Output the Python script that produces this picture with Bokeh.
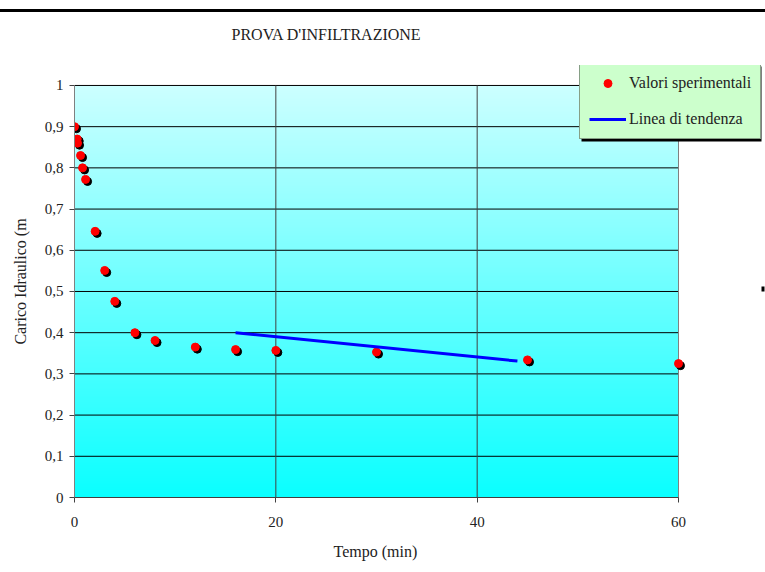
import numpy as np
from bokeh.plotting import figure
from bokeh.models import (ColumnDataSource, FixedTicker, BoxAnnotation, Legend,
                          LegendItem, Range1d, Title)
from bokeh.transform import dodge
from bokeh.embed import file_html
from bokeh.resources import INLINE

# ---- data ----
tempo = [0, 0.27, 0.30, 0.6, 0.8, 1.1, 2.05, 3, 4, 6, 8, 12, 16, 20, 30, 45, 60]
carico = [0.900, 0.870, 0.860, 0.830, 0.800, 0.772, 0.646, 0.551, 0.476, 0.400,
          0.381, 0.365, 0.359, 0.357, 0.353, 0.334, 0.325]
trend_x = [16, 44]
trend_y = [0.400, 0.331]
x_ticks = [0, 20, 40, 60]
y_ticks = [0, 0.1, 0.2, 0.3, 0.4, 0.5, 0.6, 0.7, 0.8, 0.9, 1]
y_tick_labels = ["0", "0,1", "0,2", "0,3", "0,4", "0,5", "0,6", "0,7", "0,8", "0,9", "1"]

SERIF = "Liberation Serif"

# layout (pixels)
W, H = 765, 572
LEFT, TOP, BOTTOM = 74, 64, 75
PLOT_W, PLOT_H = 604, 413          # size of the 0..60 x 0..1 plot area
frame_w = W - LEFT
frame_h = H - TOP - BOTTOM
x0, x1 = x_ticks[0], x_ticks[-1]
y0, y1 = y_ticks[0], y_ticks[-1]
x_max = x0 + (x1 - x0) * frame_w / PLOT_W
y_max = y0 + (y1 - y0) * frame_h / PLOT_H

p = figure(width=W, height=H, output_backend="svg", toolbar_location=None,
           x_range=Range1d(x0, x_max), y_range=Range1d(y0, y_max),
           min_border_left=LEFT, min_border_right=0,
           min_border_top=TOP, min_border_bottom=BOTTOM)
p.background_fill_color = "white"
p.border_fill_color = None
p.outline_line_color = None
p.styles = {"background": "linear-gradient(to bottom, #ffffff 0px, #ffffff 9px, "
                          "#000000 9px, #000000 12px, #ffffff 12px, #ffffff 100%)"}

# title
p.title.text = "PROVA D'INFILTRAZIONE"
p.title.text_font = SERIF
p.title.text_font_size = "16px"
p.title.text_font_style = "normal"
p.title.text_color = "#222222"
p.title.align = "left"
p.title.offset = 157
p.title.standoff = 46

# gradient background of the plot area
n = 256
t = np.linspace(0.0, 1.0, n)
img = np.empty((n, 1), dtype=np.uint32)
view = img.view(dtype=np.uint8).reshape((n, 1, 4))
view[:, 0, 0] = np.round(10 + (204 - 10) * t).astype(np.uint8)
view[:, 0, 1] = 255
view[:, 0, 2] = 255
view[:, 0, 3] = 255
p.image_rgba(image=[img], x=x0, y=y0, dw=x1 - x0, dh=y1 - y0, level="image")

# grid lines drawn only over the plot area
p.segment(x0=[x0] * len(y_ticks), x1=[x1] * len(y_ticks), y0=y_ticks, y1=y_ticks,
          line_color="black", line_width=1)
p.segment(x0=x_ticks[1:-1], x1=x_ticks[1:-1], y0=[y0] * (len(x_ticks) - 2),
          y1=[y1] * (len(x_ticks) - 2), line_color="#404040", line_width=1)
p.segment(x0=[x1], x1=[x1], y0=[y0], y1=[y1], line_color="#808080", line_width=1)
p.xgrid.visible = False
p.ygrid.visible = False

# axes
for ax in (p.xaxis[0], p.yaxis[0]):
    ax.major_label_text_font = SERIF
    ax.major_label_text_font_size = "15px"
    ax.major_label_text_color = "#222222"
    ax.axis_label_text_font = SERIF
    ax.axis_label_text_font_size = "16px"
    ax.axis_label_text_font_style = "normal"
    ax.axis_label_text_color = "#222222"
    ax.major_tick_out = 5
    ax.major_tick_in = 0
    ax.minor_tick_line_color = None
    ax.major_tick_line_color = "#404040"

p.xaxis.ticker = FixedTicker(ticks=x_ticks)
p.xaxis.bounds = (x0, x1)
p.xaxis.axis_line_color = "#404040"
p.xaxis.major_label_standoff = 14

# x-axis title, centred under the 0..60 plot area
xtitle = Title(text="Tempo (min)", text_font=SERIF, text_font_size="16px",
               text_font_style="normal", text_color="#222222",
               align="left", offset=259, standoff=22)
p.add_layout(xtitle, "below")

p.yaxis.ticker = FixedTicker(ticks=y_ticks)
p.yaxis.bounds = (y0, y1)
p.yaxis.major_label_overrides = {v: s for v, s in zip(y_ticks, y_tick_labels)}
p.yaxis.axis_label = "Carico Idraulico (m"
p.yaxis.axis_line_color = "#808080"
p.yaxis.major_label_standoff = 6
p.yaxis.axis_label_standoff = 13

# data
src = ColumnDataSource(dict(x=tempo, y=carico))
p.scatter(x=dodge("x", 0.2, range=p.x_range), y=dodge("y", -0.005, range=p.y_range),
          source=src, size=8, fill_color="black", line_color="black")
pts = p.scatter(x="x", y="y", source=src, size=8, fill_color="#ff0000", line_color="#ff0000")
trend = p.line(x=trend_x, y=trend_y, line_color="#0000ff", line_width=3)

# small mark at the right edge
p.add_layout(BoxAnnotation(left=761, right=764, top=286, bottom=291,
                           left_units="canvas", right_units="canvas",
                           top_units="canvas", bottom_units="canvas",
                           fill_color="black", fill_alpha=1, line_color=None))
# legend shadow
p.add_layout(BoxAnnotation(left=581, right=761, top=66, bottom=141,
                           left_units="canvas", right_units="canvas",
                           top_units="canvas", bottom_units="canvas",
                           fill_color="black", fill_alpha=1, line_color=None))

legend = Legend(items=[LegendItem(label="Valori sperimentali", renderers=[pts]),
                       LegendItem(label="Linea di tendenza", renderers=[trend])],
                location=(505, 358))
legend.background_fill_color = "#ccffcc"
legend.background_fill_alpha = 1
legend.border_line_color = "#404040"
legend.border_line_width = 1
legend.label_text_font = SERIF
legend.label_text_font_size = "16px"
legend.label_text_color = "#222222"
legend.padding = 9
legend.spacing = 16
legend.glyph_width = 37
legend.glyph_height = 20
legend.label_height = 20
legend.label_standoff = 3
legend.margin = 0
p.add_layout(legend, "center")

open("out.html", "w").write(file_html(p, INLINE))
